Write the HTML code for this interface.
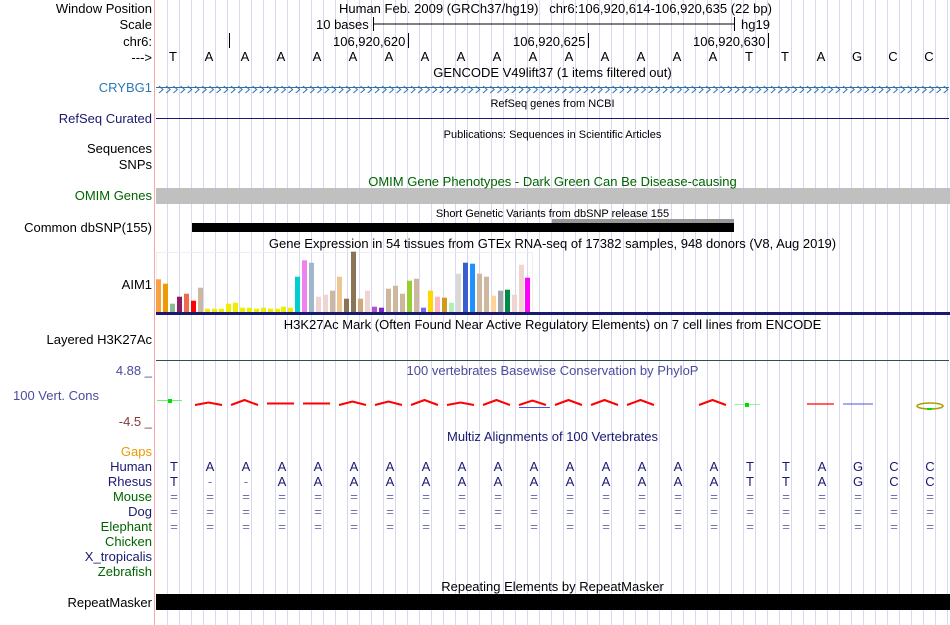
<!DOCTYPE html>
<html><head><meta charset="utf-8"><style>
body{margin:0;background:#fff;width:950px;height:625px;overflow:hidden;position:relative;font-family:"Liberation Sans",sans-serif;}
.l{position:absolute;right:798px;font-size:13px;white-space:nowrap;line-height:15px;color:#000;}
.t{position:absolute;font-size:13px;white-space:nowrap;line-height:15px;}
.c{position:absolute;left:156px;width:793px;text-align:center;white-space:nowrap;line-height:14px;}
svg{position:absolute;left:0;top:0;}
</style></head><body>
<svg width="950" height="625">
<defs><pattern id="g" x="156" y="0" width="12" height="625" patternUnits="userSpaceOnUse"><rect x="11" y="0" width="1" height="625" fill="#d8d8f4"/></pattern>
<pattern id="ar" x="158" y="0" width="7.2" height="12" patternUnits="userSpaceOnUse"><polyline points="1,2 5,5.5 1,9" fill="none" stroke="#2e6fa8" stroke-width="1"/></pattern></defs>
<rect x="156" y="0" width="794" height="625" fill="url(#g)"/>
<rect x="154" y="0" width="1" height="625" fill="#f4a8a8"/>
<line x1="373" y1="24" x2="734" y2="24" stroke="#000"/>
<line x1="373.5" y1="17" x2="373.5" y2="31" stroke="#000"/>
<line x1="734.5" y1="17" x2="734.5" y2="31" stroke="#000"/>
<line x1="229.5" y1="33" x2="229.5" y2="48" stroke="#000"/>
<line x1="408.5" y1="33" x2="408.5" y2="48" stroke="#000"/>
<line x1="588.5" y1="33" x2="588.5" y2="48" stroke="#000"/>
<line x1="768.5" y1="33" x2="768.5" y2="48" stroke="#000"/>
<line x1="156" y1="87.5" x2="949" y2="87.5" stroke="#2e6fa8"/>
<rect x="156" y="82" width="793" height="12" fill="url(#ar)"/>
<line x1="156" y1="118.5" x2="949" y2="118.5" stroke="#191970"/>
<rect x="156" y="188" width="794" height="16" fill="#c0c0c0"/>
<rect x="552" y="219" width="182" height="5" fill="#999"/>
<rect x="192" y="223" width="542" height="9" fill="#000"/>
<rect x="156.5" y="252.5" width="376" height="60" fill="none" stroke="#eee"/>
<g>
<rect x="156" y="279.3" width="5" height="32.7" fill="#f9a040"/>
<rect x="163" y="283.7" width="5" height="28.3" fill="#ee9a00"/>
<rect x="170" y="303.7" width="5" height="8.3" fill="#8fbc8f"/>
<rect x="177" y="296.7" width="5" height="15.3" fill="#8b1c62"/>
<rect x="184" y="293.7" width="5" height="18.3" fill="#ee6a50"/>
<rect x="191" y="300.7" width="5" height="11.3" fill="#ff0000"/>
<rect x="198" y="287.7" width="5" height="24.3" fill="#cdb79e"/>
<rect x="205" y="308.7" width="5" height="3.3" fill="#eeee00"/>
<rect x="212" y="308.7" width="5" height="3.3" fill="#eeee00"/>
<rect x="219" y="308.7" width="5" height="3.3" fill="#eeee00"/>
<rect x="226" y="303.7" width="5" height="8.3" fill="#eeee00"/>
<rect x="233" y="302.7" width="5" height="9.3" fill="#eeee00"/>
<rect x="240" y="307.7" width="5" height="4.3" fill="#eeee00"/>
<rect x="247" y="307.7" width="5" height="4.3" fill="#eeee00"/>
<rect x="254" y="308.7" width="5" height="3.3" fill="#eeee00"/>
<rect x="261" y="307.7" width="5" height="4.3" fill="#eeee00"/>
<rect x="268" y="308.7" width="5" height="3.3" fill="#eeee00"/>
<rect x="275" y="308.7" width="5" height="3.3" fill="#eeee00"/>
<rect x="281" y="306.7" width="5" height="5.3" fill="#eeee00"/>
<rect x="288" y="307.7" width="5" height="4.3" fill="#eeee00"/>
<rect x="295" y="276.7" width="5" height="35.3" fill="#00ced1"/>
<rect x="302" y="260.3" width="5" height="51.7" fill="#ee82ee"/>
<rect x="309" y="262.7" width="5" height="49.3" fill="#9fb6cd"/>
<rect x="316" y="296.7" width="5" height="15.3" fill="#eed5d2"/>
<rect x="323" y="294.7" width="5" height="17.3" fill="#eed5d2"/>
<rect x="330" y="290.7" width="5" height="21.3" fill="#cdb79e"/>
<rect x="337" y="276.7" width="5" height="35.3" fill="#eec591"/>
<rect x="344" y="298.7" width="5" height="13.3" fill="#8b7355"/>
<rect x="351" y="251.7" width="5" height="60.3" fill="#8b7355"/>
<rect x="358" y="298.7" width="5" height="13.3" fill="#cdaa7d"/>
<rect x="365" y="290.7" width="5" height="21.3" fill="#eed5d2"/>
<rect x="372" y="306.7" width="5" height="5.3" fill="#b452cd"/>
<rect x="379" y="307.7" width="5" height="4.3" fill="#7d26cd"/>
<rect x="386" y="288.7" width="5" height="23.3" fill="#cdb79e"/>
<rect x="393" y="285.7" width="5" height="26.3" fill="#cdb79e"/>
<rect x="400" y="293.7" width="5" height="18.3" fill="#cdb79e"/>
<rect x="407" y="280.7" width="5" height="31.3" fill="#9acd32"/>
<rect x="414" y="278.7" width="5" height="33.3" fill="#cdb79e"/>
<rect x="421" y="307.7" width="5" height="4.3" fill="#7a67ee"/>
<rect x="428" y="290.7" width="5" height="21.3" fill="#ffd700"/>
<rect x="435" y="296.7" width="5" height="15.3" fill="#ffb6c1"/>
<rect x="442" y="297.7" width="5" height="14.3" fill="#cd9b1d"/>
<rect x="449" y="302.7" width="5" height="9.3" fill="#b4eeb4"/>
<rect x="456" y="273.7" width="5" height="38.3" fill="#d9d9d9"/>
<rect x="463" y="262.7" width="5" height="49.3" fill="#3a5fcd"/>
<rect x="470" y="263.7" width="5" height="48.3" fill="#1e90ff"/>
<rect x="477" y="273.7" width="5" height="38.3" fill="#cdb79e"/>
<rect x="484" y="276.7" width="5" height="35.3" fill="#cdb79e"/>
<rect x="491" y="295.7" width="5" height="16.3" fill="#ffd39b"/>
<rect x="498" y="290.7" width="5" height="21.3" fill="#a6a6a6"/>
<rect x="505" y="289.7" width="5" height="22.3" fill="#008b45"/>
<rect x="512" y="294.7" width="5" height="17.3" fill="#eed5d2"/>
<rect x="519" y="264.7" width="5" height="47.3" fill="#eed5d2"/>
<rect x="525" y="277.7" width="5" height="34.3" fill="#ff00ff"/>
</g>
<rect x="156" y="312" width="794" height="3" fill="#191970"/>
<line x1="156" y1="360.5" x2="949" y2="360.5" stroke="#2f4f4f"/>
<g fill="none" stroke="#f00" stroke-width="2">
<polyline points="195,405 208.5,402.5 222,405"/>
<polyline points="231,405 244.5,400 258,405"/>
<polyline points="267,403.5 294,403.5"/>
<polyline points="303,403.5 330,403.5"/>
<polyline points="339,405 352.5,401.5 366,405"/>
<polyline points="375,405 388.5,401.5 402,405"/>
<polyline points="411,405 424.5,400 438,405"/>
<polyline points="447,405 460.5,402.5 474,405"/>
<polyline points="483,405 496.5,400 510,405"/>
<polyline points="519,405 532.5,400.5 546,405"/>
<polyline points="555,405 568.5,400 582,405"/>
<polyline points="591,405 604.5,400 618,405"/>
<polyline points="627,405 640.5,400 654,405"/>
<polyline points="699,405 712.5,400 726,405"/>
<polyline points="807,404 834,404" stroke-width="1.2"/>
</g>
<line x1="519" y1="407.5" x2="550" y2="407.5" stroke="#5050e0"/>
<line x1="843" y1="404" x2="873" y2="404" stroke="#5050e0"/>
<line x1="157" y1="400.5" x2="182" y2="400.5" stroke="#70f070"/>
<rect x="168" y="399" width="4" height="4" fill="#00e000"/>
<line x1="734" y1="404.5" x2="760" y2="404.5" stroke="#a0f0a0"/>
<rect x="745" y="403" width="4" height="4" fill="#00e000"/>
<ellipse cx="930" cy="406" rx="13" ry="3" fill="none" stroke="#aaa000" stroke-width="1.6"/>
<rect x="927" y="408" width="5" height="2" fill="#00e000"/>
<rect x="156" y="594" width="794" height="16" fill="#000"/>
</svg>

<div class="l" style="top:1px">Window Position</div>
<div class="l" style="top:17px">Scale</div>
<div class="l" style="top:34px">chr6:</div>
<div class="l" style="top:50px">---&gt;</div>
<div class="l" style="top:80px;color:#2a7ab8">CRYBG1</div>
<div class="l" style="top:111px;color:#191970">RefSeq Curated</div>
<div class="l" style="top:141px">Sequences</div>
<div class="l" style="top:157px">SNPs</div>
<div class="l" style="top:188px;color:#006400">OMIM Genes</div>
<div class="l" style="top:220px">Common dbSNP(155)</div>
<div class="l" style="top:277px">AIM1</div>
<div class="l" style="top:332px">Layered H3K27Ac</div>
<div class="l" style="top:363px;color:#4b4b9c">4.88 _</div>
<div class="l" style="top:388px;color:#4b4b9c;right:auto;left:13px">100 Vert. Cons</div>
<div class="l" style="top:414px;color:#8b3a3a">-4.5 _</div>
<div class="l" style="top:444px;color:#ee9a00">Gaps</div>
<div class="l" style="top:459px;color:#191970">Human</div>
<div class="l" style="top:474px;color:#191970">Rhesus</div>
<div class="l" style="top:489px;color:#006400">Mouse</div>
<div class="l" style="top:504px;color:#191970">Dog</div>
<div class="l" style="top:519px;color:#006400">Elephant</div>
<div class="l" style="top:534px;color:#006400">Chicken</div>
<div class="l" style="top:549px;color:#191970">X_tropicalis</div>
<div class="l" style="top:564px;color:#006400">Zebrafish</div>
<div class="l" style="top:595px">RepeatMasker</div>

<div class="t" style="left:339px;top:1px">Human Feb. 2009 (GRCh37/hg19)&nbsp;&nbsp;&nbsp;chr6:106,920,614-106,920,635 (22 bp)</div>
<div class="t" style="left:316px;top:17px">10 bases</div>
<div class="t" style="left:741px;top:17px">hg19</div>
<div class="t" style="left:333px;top:34px">106,920,620</div>
<div class="t" style="left:513px;top:34px">106,920,625</div>
<div class="t" style="left:693px;top:34px">106,920,630</div>
<div class="c" style="top:66px;font-size:13px">GENCODE V49lift37 (1 items filtered out)</div>
<div class="c" style="top:97px;font-size:11px">RefSeq genes from NCBI</div>
<div class="c" style="top:128px;font-size:11px">Publications: Sequences in Scientific Articles</div>
<div class="c" style="top:175px;font-size:13px;color:#006400">OMIM Gene Phenotypes - Dark Green Can Be Disease-causing</div>
<div class="c" style="top:207px;font-size:11px">Short Genetic Variants from dbSNP release 155</div>
<div class="c" style="top:237px;font-size:13px">Gene Expression in 54 tissues from GTEx RNA-seq of 17382 samples, 948 donors (V8, Aug 2019)</div>
<div class="c" style="top:318px;font-size:13px">H3K27Ac Mark (Often Found Near Active Regulatory Elements) on 7 cell lines from ENCODE</div>
<div class="c" style="top:364px;font-size:13px;color:#4b4b9c">100 vertebrates Basewise Conservation by PhyloP</div>
<div class="c" style="top:430px;font-size:13px;color:#191970">Multiz Alignments of 100 Vertebrates</div>
<div class="c" style="top:580px;font-size:13px">Repeating Elements by RepeatMasker</div>

<div style="position:absolute;left:155px;top:49px;font-size:13px;line-height:15px;display:flex">
<span style="width:36px;text-align:center">T</span><span style="width:36px;text-align:center">A</span><span style="width:36px;text-align:center">A</span><span style="width:36px;text-align:center">A</span><span style="width:36px;text-align:center">A</span><span style="width:36px;text-align:center">A</span><span style="width:36px;text-align:center">A</span><span style="width:36px;text-align:center">A</span><span style="width:36px;text-align:center">A</span><span style="width:36px;text-align:center">A</span><span style="width:36px;text-align:center">A</span><span style="width:36px;text-align:center">A</span><span style="width:36px;text-align:center">A</span><span style="width:36px;text-align:center">A</span><span style="width:36px;text-align:center">A</span><span style="width:36px;text-align:center">A</span><span style="width:36px;text-align:center">T</span><span style="width:36px;text-align:center">T</span><span style="width:36px;text-align:center">A</span><span style="width:36px;text-align:center">G</span><span style="width:36px;text-align:center">C</span><span style="width:36px;text-align:center">C</span>
</div>
<div style="position:absolute;left:156px;top:459px;font-size:13px;line-height:15px;display:flex;color:#191970">
<span style="width:36px;text-align:center">T</span><span style="width:36px;text-align:center">A</span><span style="width:36px;text-align:center">A</span><span style="width:36px;text-align:center">A</span><span style="width:36px;text-align:center">A</span><span style="width:36px;text-align:center">A</span><span style="width:36px;text-align:center">A</span><span style="width:36px;text-align:center">A</span><span style="width:36px;text-align:center">A</span><span style="width:36px;text-align:center">A</span><span style="width:36px;text-align:center">A</span><span style="width:36px;text-align:center">A</span><span style="width:36px;text-align:center">A</span><span style="width:36px;text-align:center">A</span><span style="width:36px;text-align:center">A</span><span style="width:36px;text-align:center">A</span><span style="width:36px;text-align:center">T</span><span style="width:36px;text-align:center">T</span><span style="width:36px;text-align:center">A</span><span style="width:36px;text-align:center">G</span><span style="width:36px;text-align:center">C</span><span style="width:36px;text-align:center">C</span>
</div>
<div style="position:absolute;left:156px;top:474px;font-size:13px;line-height:15px;display:flex;color:#191970">
<span style="width:36px;text-align:center">T</span><span style="width:36px;text-align:center;color:#7070b0">-</span><span style="width:36px;text-align:center;color:#7070b0">-</span><span style="width:36px;text-align:center">A</span><span style="width:36px;text-align:center">A</span><span style="width:36px;text-align:center">A</span><span style="width:36px;text-align:center">A</span><span style="width:36px;text-align:center">A</span><span style="width:36px;text-align:center">A</span><span style="width:36px;text-align:center">A</span><span style="width:36px;text-align:center">A</span><span style="width:36px;text-align:center">A</span><span style="width:36px;text-align:center">A</span><span style="width:36px;text-align:center">A</span><span style="width:36px;text-align:center">A</span><span style="width:36px;text-align:center">A</span><span style="width:36px;text-align:center">T</span><span style="width:36px;text-align:center">T</span><span style="width:36px;text-align:center">A</span><span style="width:36px;text-align:center">G</span><span style="width:36px;text-align:center">C</span><span style="width:36px;text-align:center">C</span>
</div>
<div style="position:absolute;left:156px;top:489px;font-size:13px;line-height:15px;color:#7070b0;display:flex">
<span style="width:36px;text-align:center">=</span><span style="width:36px;text-align:center">=</span><span style="width:36px;text-align:center">=</span><span style="width:36px;text-align:center">=</span><span style="width:36px;text-align:center">=</span><span style="width:36px;text-align:center">=</span><span style="width:36px;text-align:center">=</span><span style="width:36px;text-align:center">=</span><span style="width:36px;text-align:center">=</span><span style="width:36px;text-align:center">=</span><span style="width:36px;text-align:center">=</span><span style="width:36px;text-align:center">=</span><span style="width:36px;text-align:center">=</span><span style="width:36px;text-align:center">=</span><span style="width:36px;text-align:center">=</span><span style="width:36px;text-align:center">=</span><span style="width:36px;text-align:center">=</span><span style="width:36px;text-align:center">=</span><span style="width:36px;text-align:center">=</span><span style="width:36px;text-align:center">=</span><span style="width:36px;text-align:center">=</span><span style="width:36px;text-align:center">=</span>
</div>
<div style="position:absolute;left:156px;top:504px;font-size:13px;line-height:15px;color:#7070b0;display:flex">
<span style="width:36px;text-align:center">=</span><span style="width:36px;text-align:center">=</span><span style="width:36px;text-align:center">=</span><span style="width:36px;text-align:center">=</span><span style="width:36px;text-align:center">=</span><span style="width:36px;text-align:center">=</span><span style="width:36px;text-align:center">=</span><span style="width:36px;text-align:center">=</span><span style="width:36px;text-align:center">=</span><span style="width:36px;text-align:center">=</span><span style="width:36px;text-align:center">=</span><span style="width:36px;text-align:center">=</span><span style="width:36px;text-align:center">=</span><span style="width:36px;text-align:center">=</span><span style="width:36px;text-align:center">=</span><span style="width:36px;text-align:center">=</span><span style="width:36px;text-align:center">=</span><span style="width:36px;text-align:center">=</span><span style="width:36px;text-align:center">=</span><span style="width:36px;text-align:center">=</span><span style="width:36px;text-align:center">=</span><span style="width:36px;text-align:center">=</span>
</div>
<div style="position:absolute;left:156px;top:519px;font-size:13px;line-height:15px;color:#7070b0;display:flex">
<span style="width:36px;text-align:center">=</span><span style="width:36px;text-align:center">=</span><span style="width:36px;text-align:center">=</span><span style="width:36px;text-align:center">=</span><span style="width:36px;text-align:center">=</span><span style="width:36px;text-align:center">=</span><span style="width:36px;text-align:center">=</span><span style="width:36px;text-align:center">=</span><span style="width:36px;text-align:center">=</span><span style="width:36px;text-align:center">=</span><span style="width:36px;text-align:center">=</span><span style="width:36px;text-align:center">=</span><span style="width:36px;text-align:center">=</span><span style="width:36px;text-align:center">=</span><span style="width:36px;text-align:center">=</span><span style="width:36px;text-align:center">=</span><span style="width:36px;text-align:center">=</span><span style="width:36px;text-align:center">=</span><span style="width:36px;text-align:center">=</span><span style="width:36px;text-align:center">=</span><span style="width:36px;text-align:center">=</span><span style="width:36px;text-align:center">=</span>
</div>
</body></html>
